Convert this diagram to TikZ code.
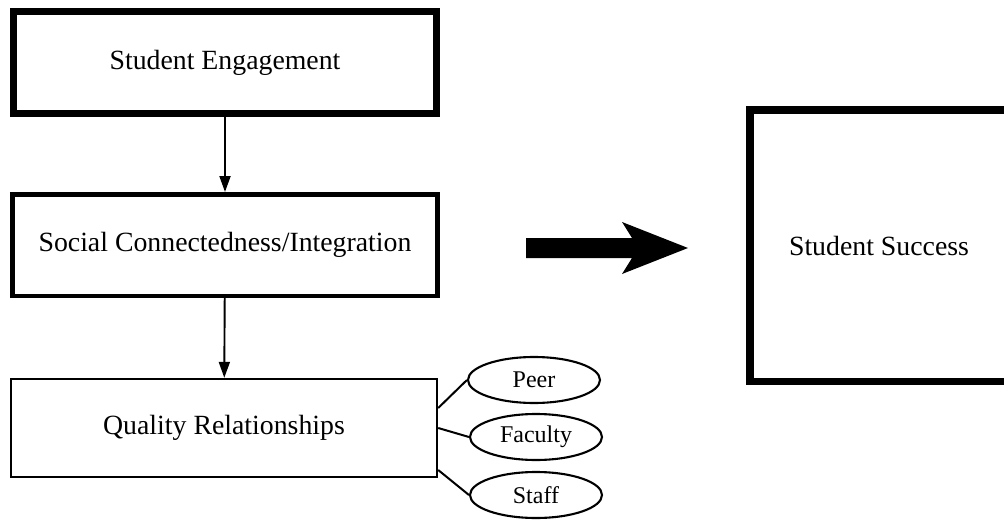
\documentclass[tikz,border=0pt]{standalone}
\usepackage{fontspec}
\setmainfont{Liberation Serif}
\usetikzlibrary{arrows.meta,shapes.geometric,calc}

\begin{document}
\begin{tikzpicture}[x=1pt, y=-1pt, font=\fontsize{27.8}{32}\selectfont,
  box/.style={draw, inner sep=0pt, minimum width=425pt, minimum height=100pt},
  oval/.style={draw, ellipse, line width=2.1pt, inner sep=0pt, minimum width=132pt, minimum height=46pt, font=\fontsize{24}{28}\selectfont},
  arr/.style={-{Triangle[length=16pt, width=11pt]}, line width=1.9pt}]
\useasboundingbox (0,0) rectangle (1004,522);
\node[box, line width=7pt, minimum width=423pt, minimum height=102pt] (E) at (225,62.5) {Student Engagement};
\node[box, line width=4.5pt, minimum height=101.5pt] (C) at (225,245) {Social Connectedness/Integration};
\node[box, line width=2.4pt, minimum width=426pt, minimum height=98pt] (Q) at (224,428) {Quality Relationships};
\node[box, line width=7.5pt, minimum width=258.5pt, minimum height=271.5pt] (S) at (879,245.5) {Student Success};
\node[oval] (P) at (534,380) {Peer};
\node[oval] (F) at (536,437) {Faculty};
\node[oval] (St) at (536,495) {Staff};
\draw[arr] (E) -- (C); \draw[arr] (C) -- (Q);
\draw[line width=2pt] ($(Q.east)+(0,-20)$) -- (P.west);
\draw[line width=2pt] (Q.east) -- (F.west);
\draw[line width=2pt] ($(Q.east)+(0,42)$) -- (St.west);
% block arrow towards the outcome
\fill (526,238) -- (632,238) -- (622,222) -- (688,248) -- (622,274) -- (632,258) -- (526,258) -- cycle;
\end{tikzpicture}
\end{document}
